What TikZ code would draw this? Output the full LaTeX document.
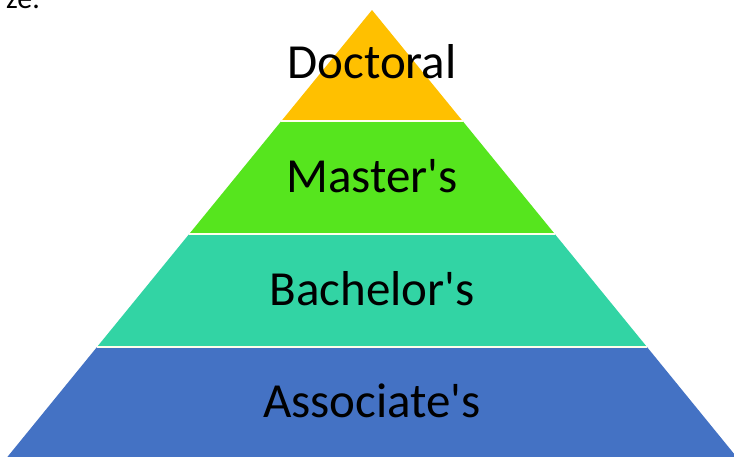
\documentclass[tikz,border=0pt]{standalone}
\usepackage{fontspec}
\setmainfont{Carlito}
\usepackage{tikz}
\definecolor{doccol}{HTML}{FFC000}
\definecolor{mascol}{HTML}{56E51E}
\definecolor{baccol}{HTML}{32D4A4}
\definecolor{asscol}{HTML}{4472C4}
\tikzset{
  band/.style = {draw=white!92!yellow, line width=1.5pt, line join=round},
  level/.style = {anchor=base, font=\fontsize{49}{56}\selectfont, text=black}
}

\begin{document}
\begin{tikzpicture}[x=1pt,y=-1pt]
\useasboundingbox (0,0) rectangle (734,456);
\fill[white] (0,0) rectangle (734,456);
\node[anchor=base east, font=\fontsize{30}{36}\selectfont, inner sep=0pt] (cut) at (40,8) {ze.};
\fill[asscol] (97,347) -- (647,347) -- (744,466) -- (0,466) -- cycle;
\fill[baccol] (189.2,234) -- (554.8,234) -- (647,347) -- (97,347) -- cycle;
\fill[mascol] (281.4,121) -- (462.6,121) -- (554.8,234) -- (189.2,234) -- cycle;
\fill[doccol] (372,10) -- (462.6,121) -- (281.4,121) -- cycle;
\draw[band] (281.4,121) -- (462.6,121);
\draw[band] (189.2,234) -- (554.8,234);
\draw[band] (97,347) -- (647,347);
\node[level] (doc) at (372,78) {Doctoral};
\node[level] (mas) at (372,192) {Master\textquotesingle s};
\node[level] (bac) at (372,305) {Bachelor\textquotesingle s};
\node[level] (ass) at (372,417) {Associate\textquotesingle s};
\end{tikzpicture}
\end{document}
